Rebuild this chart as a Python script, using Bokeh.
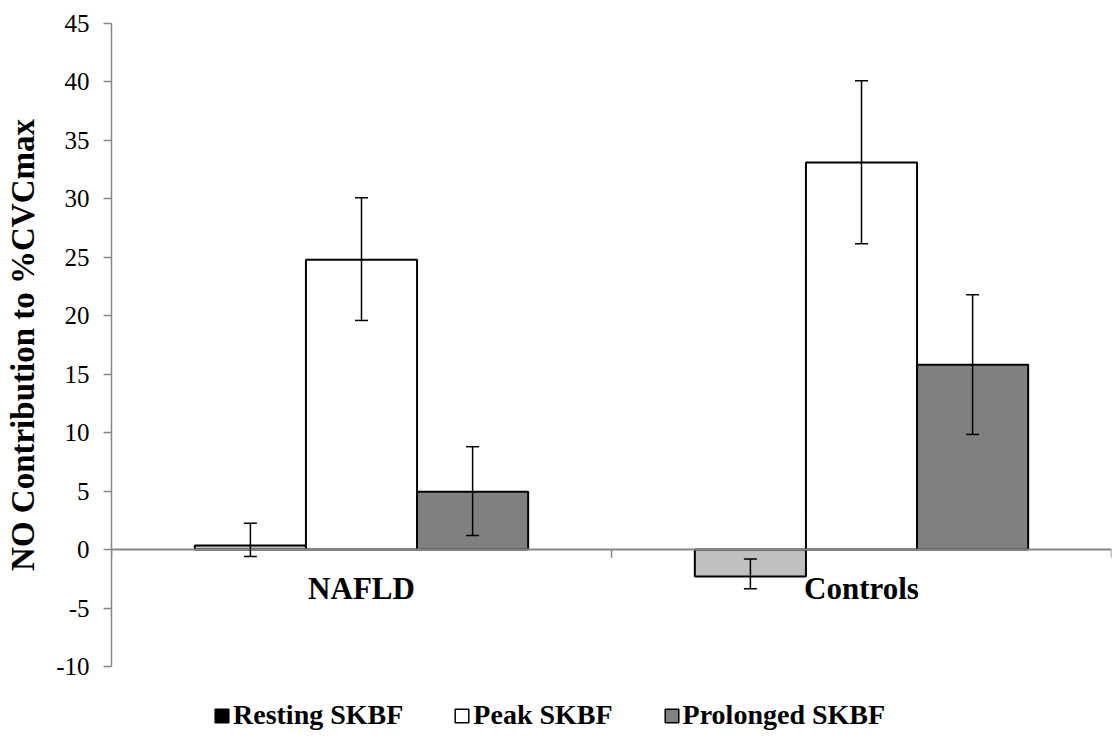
from bokeh.plotting import figure
from bokeh.layouts import column
from bokeh.models import (ColumnDataSource, Whisker, TeeHead, Range1d, FixedTicker,
                          Span, Legend, LegendItem)
from bokeh.core.properties import value
from bokeh.embed import file_html
from bokeh.resources import INLINE

groups = ["NAFLD", "Controls"]
series = ["Resting SKBF", "Peak SKBF", "Prolonged SKBF"]

resting = [0.35, -2.3]
resting_upper = [2.25, -0.8]
resting_lower = [-0.6, -3.35]

peak = [24.8, 33.1]
peak_upper = [30.1, 40.1]
peak_lower = [19.6, 26.15]

prolonged = [4.95, 15.8]
prolonged_upper = [8.8, 21.8]
prolonged_lower = [1.2, 9.85]

y_ticks = [-10, -5, 0, 5, 10, 15, 20, 25, 30, 35, 40, 45]
y_min, y_max = -10, 45
y_title = "NO Contribution to %CVCmax"

FONT = "Liberation Serif"
GRAY = "#868686"

p = figure(width=1117, height=680, output_backend="svg", toolbar_location=None,
           x_range=Range1d(0, len(groups)), y_range=Range1d(y_min, y_max),
           min_border_left=111, min_border_right=6, min_border_top=23,
           min_border_bottom=14)
p.outline_line_color = None
p.xgrid.visible = False
p.ygrid.visible = False
p.xaxis.visible = False

ya = p.yaxis[0]
ya.ticker = FixedTicker(ticks=y_ticks)
ya.major_label_overrides = {t: str(t) for t in y_ticks}
ya.minor_tick_line_color = None
ya.axis_line_color = GRAY
ya.axis_line_width = 1.5
ya.major_tick_line_color = GRAY
ya.major_tick_line_width = 1.5
ya.major_tick_in = 0
ya.major_tick_out = 8
ya.major_label_text_font = FONT
ya.major_label_text_font_size = "25px"
ya.major_label_text_color = "black"
ya.major_label_standoff = 14
ya.axis_label = y_title
ya.axis_label_text_font = FONT
ya.axis_label_text_font_style = "bold"
ya.axis_label_text_font_size = "33px"
ya.axis_label_text_color = "black"
ya.axis_label_standoff = 12

centers = [i + 0.5 for i in range(len(groups))]
w = 1.0 / 4.5
offsets = [-w, 0.0, w]
fills = ["#C0C0C0", "#FFFFFF", "#808080"]
legend_fills = ["#000000", "#FFFFFF", "#808080"]
vals = [resting, peak, prolonged]
ups = [resting_upper, peak_upper, prolonged_upper]
los = [resting_lower, peak_lower, prolonged_lower]

# zero line
p.add_layout(Span(location=0, dimension="width", line_color=GRAY, line_width=2))
# category ticks on the zero line
tick_x = [float(i) for i in range(len(groups) + 1)]
p.segment(x0=tick_x, y0=[0] * len(tick_x), x1=tick_x, y1=[-0.7] * len(tick_x),
          line_color=GRAY, line_width=1.5)

for k in range(3):
    xs = [c + offsets[k] for c in centers]
    src = ColumnDataSource(dict(x=xs, top=vals[k], upper=ups[k], lower=los[k]))
    p.vbar(x="x", top="top", bottom=0, width=w, source=src,
           fill_color=fills[k], line_color="black", line_width=2)
    wk = Whisker(source=src, base="x", upper="upper", lower="lower",
                 line_color="black", line_width=1.5, level="overlay",
                 upper_head=TeeHead(size=13, line_color="black", line_width=1.5),
                 lower_head=TeeHead(size=13, line_color="black", line_width=1.5))
    p.add_layout(wk)

# group labels
p.text(x=centers, y=[-3.35] * len(groups), text=groups,
       text_font=value(FONT), text_font_style="bold", text_font_size="31px",
       text_align="center", text_baseline="middle", text_color="black")

# legend strip below the chart (its frame is aligned with the chart's frame)
lg = figure(width=1117, height=57, output_backend="svg", toolbar_location=None,
            x_range=Range1d(0, 1), y_range=Range1d(0, 1),
            min_border_left=0, min_border_right=0, min_border_top=0,
            min_border_bottom=0)
lg.outline_line_color = None
lg.xgrid.visible = False
lg.ygrid.visible = False
lg.xaxis.visible = False
lg.yaxis.visible = False

items = []
for k in range(3):
    dummy = lg.quad(left=[float("nan")], right=[float("nan")], top=[float("nan")],
                    bottom=[float("nan")], fill_color=legend_fills[k],
                    line_color="black", line_width=1.5)
    items.append(LegendItem(label=series[k], renderers=[dummy]))

legend = Legend(items=items, orientation="horizontal", location=(102, 6),
                padding=0, margin=0, spacing=50, label_standoff=3,
                glyph_width=17, glyph_height=17, label_height=28,
                label_text_font=FONT, label_text_font_style="bold",
                label_text_font_size="28px", label_text_color="black",
                border_line_alpha=0, background_fill_alpha=0)
lg.add_layout(legend, "center")

layout = column(p, lg, spacing=0)
open("out.html", "w").write(file_html(layout, INLINE))
